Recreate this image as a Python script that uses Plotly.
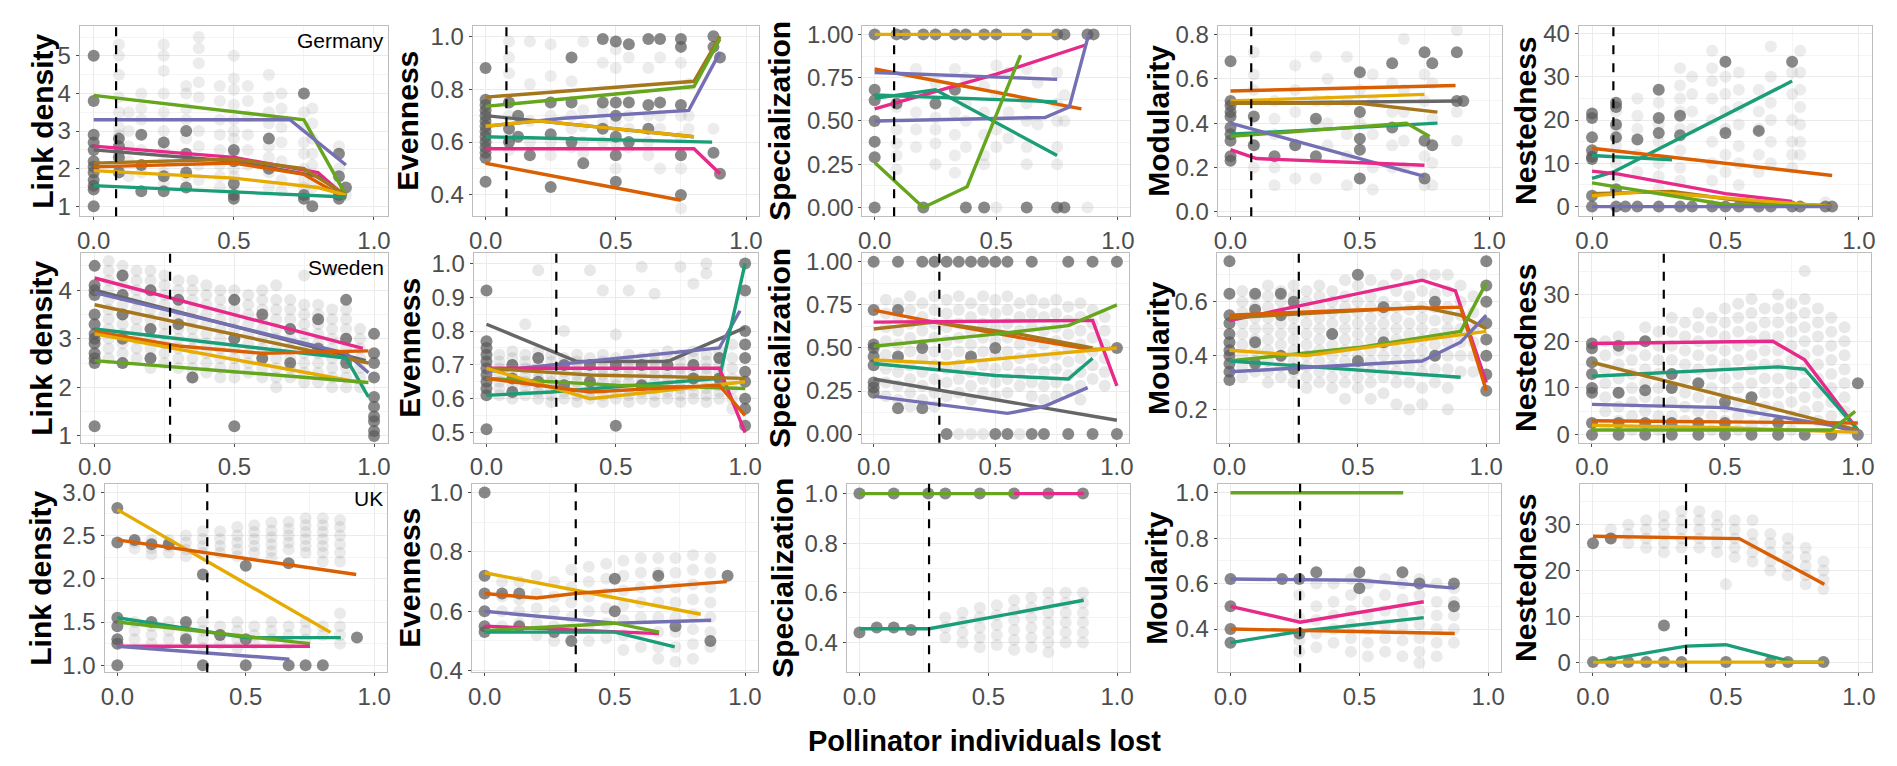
import plotly.graph_objects as go

W, H = 1897, 766

COLORS = {"teal": "#1B9E77", "orange": "#D95F02", "purple": "#7570B3", "pink": "#E7298A",
          "green": "#66A61E", "yellow": "#E6AB02", "brown": "#A6761D", "gray": "#666666"}

# ---------------- Germany ----------------
GER_LD_DARK = {0.0: [5.0, 3.8, 2.9, 2.7, 2.5, 2.2, 2.05, 1.9, 1.7, 1.55, 1.45, 1.0],
               0.09: [2.8, 2.6, 2.3, 1.9], 0.17: [2.9, 2.1, 1.4], 0.25: [2.7, 1.8, 1.4],
               0.33: [3.0, 2.4, 1.9, 1.5], 0.5: [2.5, 2.2, 1.6, 1.3, 1.2], 0.625: [2.8, 2.0],
               0.75: [4.0, 1.3, 1.2], 0.78: [1.0], 0.875: [2.4, 1.8, 1.3, 1.2], 0.9: [1.5]}
GER_LD_LIGHT = {0.09: [5.3, 5.0, 4.5, 3.9, 3.5, 3.1, 2.9, 2.4, 2.0], 0.125: [3.5, 3.0, 2.6, 2.2, 1.8],
                0.17: [4.0, 3.6, 3.3, 2.5, 1.9], 0.25: [5.3, 5.0, 4.6, 4.0, 3.5, 3.0, 2.5, 2.2, 1.9, 1.6],
                0.33: [4.2, 4.0, 3.6, 3.3, 2.8, 2.2, 1.8], 0.375: [5.5, 5.2, 4.8, 4.3, 3.9, 3.0, 2.6, 2.1, 1.7],
                0.45: [4.2, 3.8, 3.3, 2.9, 2.5, 2.1, 1.8, 1.5],
                0.5: [5.0, 4.4, 4.1, 3.7, 3.3, 3.0, 2.8, 2.4, 2.0, 1.8, 1.4],
                0.55: [4.2, 3.8, 3.4, 2.9, 2.5, 2.1], 0.625: [4.5, 3.9, 3.5, 3.2, 2.6, 2.3, 1.9, 1.5],
                0.67: [4.0, 3.6, 3.1, 2.7, 2.2, 1.7, 1.4], 0.75: [3.5, 3.1, 2.7, 2.4, 2.0, 1.7, 1.5],
                0.78: [3.6, 3.2, 2.8, 2.4, 2.1, 1.8, 1.5], 0.875: [2.6, 2.0, 1.6], 0.9: [1.3]}
GER_LD_LINES = {"green": ([0, 0.75, 0.9], [3.95, 3.3, 1.3]),
                "purple": ([0, 0.7, 0.9], [3.3, 3.3, 2.1]),
                "pink": ([0, 0.5, 0.8, 0.9], [2.6, 2.3, 1.9, 1.25]),
                "gray": ([0, 0.5, 0.8, 0.9], [2.5, 2.2, 1.8, 1.25]),
                "brown": ([0, 0.5, 0.75, 0.9], [2.15, 2.25, 2.0, 1.3]),
                "orange": ([0, 0.5, 0.75, 0.9], [2.05, 2.15, 1.85, 1.2]),
                "yellow": ([0, 0.5, 0.8, 0.9], [1.95, 1.75, 1.5, 1.3]),
                "teal": ([0, 0.75, 0.9], [1.55, 1.3, 1.25])}

GER_EV_DARK = {0.0: [0.88, 0.76, 0.74, 0.72, 0.70, 0.68, 0.66, 0.64, 0.62, 0.60, 0.58, 0.56, 0.54, 0.45],
               0.09: [0.75, 0.65, 0.6], 0.125: [0.7, 0.62], 0.17: [0.55], 0.25: [0.75, 0.63, 0.43],
               0.33: [0.92, 0.75, 0.6], 0.375: [0.52], 0.45: [0.99, 0.75, 0.65],
               0.5: [0.98, 0.75, 0.7, 0.62, 0.55, 0.45], 0.55: [0.97, 0.75, 0.6], 0.625: [0.99, 0.74, 0.65],
               0.67: [0.99, 0.75], 0.75: [0.99, 0.96, 0.74, 0.55, 0.4], 0.875: [1.0, 0.96, 0.56], 0.9: [0.92, 0.48]}
GER_EV_LIGHT = {0.09: [0.98, 0.92, 0.86, 0.7, 0.62, 0.57], 0.17: [0.98, 0.82, 0.68, 0.6],
                0.25: [0.97, 0.85, 0.7, 0.6, 0.55], 0.33: [0.83, 0.7, 0.65, 0.58],
                0.375: [0.98, 0.72, 0.66, 0.6, 0.56], 0.45: [0.9, 0.72, 0.67, 0.6],
                0.5: [0.95, 0.88, 0.68, 0.6, 0.5], 0.55: [0.92, 0.7, 0.65, 0.58],
                0.625: [0.88, 0.7, 0.6, 0.55], 0.67: [0.92, 0.7, 0.65, 0.5],
                0.75: [0.9, 0.7, 0.62, 0.5, 0.35], 0.78: [0.82, 0.7, 0.65], 0.875: [0.65]}
GER_EV_LINES = {"orange": ([0, 0.75], [0.52, 0.38]),
                "brown": ([0, 0.8, 0.9], [0.77, 0.83, 1.0]),
                "green": ([0, 0.8, 0.9], [0.735, 0.81, 0.99]),
                "gray": ([0, 0.8], [0.70, 0.62]),
                "purple": ([0, 0.3, 0.78, 0.9], [0.66, 0.69, 0.72, 0.94]),
                "yellow": ([0, 0.2, 0.8], [0.66, 0.68, 0.62]),
                "teal": ([0, 0.87], [0.62, 0.60]),
                "pink": ([0, 0.8, 0.9], [0.575, 0.575, 0.48])}

GER_SP_DARK = {0.0: [1.0, 0.68, 0.62, 0.5, 0.38, 0.29, 0.0], 0.09: [1.0, 0.6], 0.125: [1.0],
               0.2: [1.0, 0.0], 0.25: [1.0, 0.6], 0.33: [1.0, 0.68], 0.375: [1.0, 0.0], 0.45: [1.0, 0.0],
               0.5: [1.0], 0.625: [1.0, 0.0], 0.75: [1.0, 0.0], 0.78: [1.0, 0.0], 0.875: [1.0], 0.9: [1.0]}
GER_SP_LIGHT = {0.09: [0.58, 0.45, 0.37, 0.3, 0.22], 0.17: [0.8, 0.55, 0.45, 0.35],
                0.25: [0.72, 0.52, 0.45, 0.37, 0.25], 0.33: [0.8, 0.55, 0.42, 0.3, 0.2],
                0.375: [0.75, 0.6, 0.5, 0.35], 0.45: [0.7, 0.55, 0.42, 0.3, 0.25],
                0.5: [0.82, 0.65, 0.45, 0.35, 0.0], 0.55: [0.78, 0.55, 0.4],
                0.625: [0.8, 0.6, 0.5, 0.35, 0.25], 0.67: [0.72, 0.48],
                0.75: [0.78, 0.6, 0.5, 0.35, 0.25], 0.78: [0.65, 0.5], 0.875: [0.0]}
GER_SP_LINES = {"yellow": ([0, 0.75], [1.0, 1.0]),
                "pink": ([0, 0.5, 0.87], [0.57, 0.77, 0.94]),
                "orange": ([0, 0.85], [0.8, 0.57]),
                "purple": ([0, 0.75], [0.78, 0.74]),
                "purple2": ([0, 0.7, 0.8, 0.88], [0.5, 0.52, 0.58, 1.0]),
                "teal": ([0, 0.25, 0.75], [0.63, 0.68, 0.3]),
                "teal2": ([0, 0.75], [0.65, 0.61]),
                "green": ([0, 0.2, 0.38, 0.6], [0.26, 0.0, 0.12, 0.88])}

GER_MO_DARK = {0.0: [0.68, 0.5, 0.48, 0.45, 0.43, 0.38, 0.35, 0.32, 0.25, 0.23], 0.09: [0.43, 0.3],
               0.17: [0.25], 0.25: [0.3], 0.33: [0.42, 0.25], 0.5: [0.63, 0.45, 0.33, 0.28, 0.15],
               0.625: [0.67, 0.38], 0.75: [0.72, 0.32, 0.15], 0.78: [0.67, 0.3], 0.875: [0.72, 0.5], 0.9: [0.5]}
GER_MO_LIGHT = {0.09: [0.72, 0.62, 0.55, 0.3, 0.2], 0.17: [0.5, 0.42, 0.35, 0.2, 0.12],
                0.25: [0.66, 0.55, 0.45, 0.3, 0.15], 0.33: [0.7, 0.5, 0.4, 0.15],
                0.375: [0.6, 0.5, 0.4, 0.3], 0.45: [0.7, 0.5, 0.35, 0.25, 0.12], 0.5: [0.55, 0.4],
                0.55: [0.62, 0.5, 0.35, 0.2, 0.1], 0.625: [0.58, 0.45, 0.3, 0.2],
                0.67: [0.78, 0.55, 0.45, 0.32, 0.2], 0.75: [0.62, 0.5, 0.25, 0.12],
                0.78: [0.58, 0.42, 0.22, 0.12], 0.875: [0.82, 0.45, 0.32]}
GER_MO_LINES = {"orange": ([0, 0.87], [0.545, 0.57]),
                "yellow": ([0, 0.75], [0.5, 0.53]),
                "gray": ([0, 0.88], [0.49, 0.5]),
                "brown": ([0, 0.5, 0.8], [0.49, 0.49, 0.45]),
                "teal": ([0, 0.8], [0.35, 0.4]),
                "green": ([0, 0.68, 0.77], [0.34, 0.4, 0.34]),
                "purple": ([0, 0.75], [0.4, 0.16]),
                "pink": ([0, 0.1, 0.75], [0.28, 0.24, 0.21])}

GER_NE_DARK = {0.0: [21.5, 20.5, 16, 13, 11.5, 11, 2.5, 0], 0.09: [24, 23, 19, 16, 4, 0], 0.125: [0],
               0.17: [15.5, 0], 0.25: [27, 20.5, 17, 0], 0.33: [21, 16.5, 0], 0.375: [0], 0.45: [0],
               0.5: [33.5, 17, 0], 0.55: [0], 0.625: [17.5, 0], 0.67: [0], 0.75: [33.5, 0], 0.78: [0],
               0.875: [0], 0.9: [0]}
GER_NE_LIGHT = {0.09: [22, 18, 14, 10, 7], 0.17: [25, 21, 18, 12, 8], 0.25: [24, 19, 15, 10, 7, 4],
                0.33: [32, 28, 25, 22, 18, 13, 9, 6], 0.375: [30, 26, 22, 18],
                0.45: [36, 32, 29, 25, 20, 15, 10, 6], 0.5: [30, 26, 22, 18, 12, 8],
                0.55: [31, 27, 23, 19, 14, 10, 5], 0.625: [27, 22, 18, 12, 8],
                0.67: [37, 30, 24, 20, 15, 10], 0.75: [31, 26, 20, 15, 12, 9],
                0.78: [36, 31, 27, 23, 19, 15, 12], 0.875: [1]}
GER_NE_LINES = {"teal": ([0, 0.08, 0.75], [6.5, 8.0, 29.0]),
                "orange": ([0, 0.9], [13.5, 7.2]),
                "teal2": ([0, 0.3], [11.8, 10.8]),
                "pink": ([0, 0.1, 0.5, 0.75], [8.2, 7.5, 3.0, 1.2]),
                "brown": ([0, 0.3, 0.6, 0.9], [3.0, 3.5, 1.0, 0.2]),
                "yellow": ([0, 0.2, 0.5, 0.9], [2.5, 3.5, 2.0, 0.0]),
                "green": ([0, 0.2, 0.5, 0.9], [5.5, 3.5, 0.5, 0.0]),
                "purple": ([0, 0.9], [0.0, 0.0])}

# ---------------- Sweden ----------------
SWE_LD_DARK = {0.0: [4.5, 4.1, 4.0, 3.9, 3.5, 3.3, 3.1, 3.0, 2.9, 2.7, 2.6, 2.5, 1.2],
               0.1: [4.3, 3.9, 3.5, 3.0, 2.5], 0.2: [4.0, 3.2, 2.6], 0.3: [3.8, 3.3], 0.35: [2.2],
               0.5: [3.8, 3.0, 1.2], 0.6: [3.5, 2.6], 0.7: [3.2, 2.5], 0.8: [3.4, 2.8], 0.9: [3.8, 3.0, 2.5],
               1.0: [3.1, 2.7, 2.5, 2.2, 1.8, 1.6, 1.4, 1.3, 1.1, 1.0]}
SWE_LD_LIGHT = {0.05: [4.6, 4.4, 4.2, 4.0, 3.8, 3.6, 3.4, 3.2, 3.0, 2.8, 2.6],
                0.1: [4.5, 4.3, 4.1, 3.9, 3.7, 3.5, 3.3, 3.1, 2.9, 2.7, 2.5],
                0.15: [4.4, 4.2, 4.0, 3.8, 3.6, 3.4, 3.2, 3.0, 2.8, 2.6],
                0.2: [4.4, 4.2, 4.0, 3.8, 3.6, 3.4, 3.2, 3.0, 2.8, 2.6, 2.4],
                0.25: [4.3, 4.1, 3.9, 3.7, 3.5, 3.3, 3.1, 2.9, 2.7, 2.5],
                0.3: [4.2, 4.0, 3.8, 3.6, 3.4, 3.2, 3.0, 2.8, 2.6, 2.4],
                0.35: [4.2, 4.0, 3.8, 3.6, 3.4, 3.2, 3.0, 2.8, 2.6, 2.4, 2.2],
                0.4: [4.1, 3.9, 3.7, 3.5, 3.3, 3.1, 2.9, 2.7, 2.5, 2.3],
                0.45: [4.0, 3.8, 3.6, 3.4, 3.2, 3.0, 2.8, 2.6, 2.4, 2.2],
                0.5: [4.0, 3.8, 3.6, 3.4, 3.2, 3.0, 2.8, 2.6, 2.4, 2.2],
                0.55: [3.9, 3.7, 3.5, 3.3, 3.1, 2.9, 2.7, 2.5, 2.3],
                0.6: [4.0, 3.8, 3.6, 3.4, 3.2, 3.0, 2.8, 2.6, 2.4, 2.2],
                0.65: [4.1, 3.8, 3.6, 3.4, 3.2, 3.0, 2.8, 2.6, 2.4, 2.2, 2.0],
                0.7: [3.8, 3.6, 3.4, 3.2, 3.0, 2.8, 2.6, 2.4, 2.2],
                0.75: [4.3, 3.7, 3.5, 3.3, 3.1, 2.9, 2.7, 2.5, 2.3, 2.1],
                0.8: [3.7, 3.5, 3.3, 3.1, 2.9, 2.7, 2.5, 2.3, 2.1],
                0.85: [4.4, 3.6, 3.4, 3.2, 3.0, 2.8, 2.6, 2.4, 2.2, 2.0],
                0.9: [3.6, 3.4, 3.2, 3.0, 2.8, 2.6, 2.4, 2.2, 2.0],
                0.95: [3.2, 3.0, 2.8, 2.6, 2.4, 2.2, 2.0]}
SWE_LD_LINES = {"pink": ([0, 0.96], [4.25, 2.8]),
                "gray": ([0, 0.97], [4.0, 2.55]),
                "purple": ([0, 0.9, 0.98], [3.95, 2.7, 2.3]),
                "brown": ([0, 0.98], [3.7, 2.5]),
                "teal": ([0, 0.9, 0.98], [3.2, 2.6, 1.8]),
                "orange": ([0, 0.3, 0.6, 0.98], [3.15, 2.85, 2.7, 2.75]),
                "yellow": ([0, 0.95], [3.1, 2.1]),
                "green": ([0, 0.98], [2.55, 2.1])}

SWE_EV_DARK = {0.0: [0.92, 0.77, 0.75, 0.73, 0.71, 0.69, 0.67, 0.65, 0.63, 0.61, 0.51],
               0.1: [0.7, 0.66, 0.62], 0.2: [0.72, 0.65], 0.3: [0.7, 0.64], 0.4: [0.7, 0.65],
               0.5: [0.52, 0.7], 0.6: [0.7, 0.64], 0.7: [0.7], 0.8: [0.7, 0.66], 0.9: [0.72, 0.66],
               1.0: [1.0, 0.92, 0.8, 0.76, 0.72, 0.68, 0.65, 0.6, 0.57, 0.52]}
SWE_EV_LIGHT = {0.05: [0.73, 0.71, 0.69, 0.67, 0.65, 0.63, 0.61], 0.1: [0.74, 0.72, 0.7, 0.68, 0.66, 0.64, 0.62, 0.6],
                0.15: [0.82, 0.73, 0.71, 0.69, 0.67, 0.65, 0.63, 0.61], 0.2: [0.98, 0.74, 0.72, 0.7, 0.68, 0.66, 0.64, 0.62, 0.6],
                0.25: [0.73, 0.71, 0.69, 0.67, 0.65, 0.63, 0.61, 0.59], 0.3: [0.8, 0.72, 0.7, 0.68, 0.66, 0.64, 0.62, 0.6],
                0.35: [0.73, 0.71, 0.69, 0.67, 0.65, 0.63, 0.61, 0.59], 0.4: [0.98, 0.72, 0.7, 0.68, 0.66, 0.64, 0.62, 0.6],
                0.45: [0.92, 0.73, 0.71, 0.69, 0.67, 0.65, 0.63, 0.61, 0.59], 0.5: [0.79, 0.72, 0.7, 0.68, 0.66, 0.64, 0.62, 0.6],
                0.55: [0.92, 0.73, 0.71, 0.69, 0.67, 0.65, 0.63, 0.61, 0.59], 0.6: [0.99, 0.72, 0.7, 0.68, 0.66, 0.64, 0.62, 0.6],
                0.65: [0.91, 0.73, 0.71, 0.69, 0.67, 0.65, 0.63, 0.61, 0.59], 0.7: [0.74, 0.72, 0.7, 0.68, 0.66, 0.64, 0.62, 0.6],
                0.75: [0.99, 0.73, 0.71, 0.69, 0.67, 0.65, 0.63, 0.61, 0.59], 0.8: [0.94, 0.74, 0.72, 0.7, 0.68, 0.66, 0.64, 0.62, 0.6],
                0.85: [1.0, 0.97, 0.73, 0.71, 0.69, 0.67, 0.65, 0.63, 0.61, 0.59], 0.9: [0.74, 0.72, 0.7, 0.68, 0.66, 0.64, 0.62, 0.6],
                0.95: [0.76, 0.72, 0.69, 0.66, 0.63, 0.6, 0.57]}
SWE_EV_LINES = {"gray": ([0, 0.35, 0.7, 1.0], [0.82, 0.71, 0.71, 0.81]),
                "purple": ([0, 0.9, 0.98], [0.68, 0.75, 0.86]),
                "teal": ([0, 0.25, 0.9, 1.0], [0.61, 0.62, 0.66, 1.0]),
                "pink": ([0, 0.9, 1.0], [0.69, 0.69, 0.5]),
                "brown": ([0, 0.4, 1.0], [0.69, 0.67, 0.66]),
                "green": ([0, 0.5, 1.0], [0.66, 0.64, 0.63]),
                "yellow": ([0, 0.4, 1.0], [0.69, 0.6, 0.65]),
                "orange": ([0, 0.4, 0.9, 1.0], [0.66, 0.62, 0.64, 0.55])}

SWE_SP_DARK = {0.0: [1.0, 0.72, 0.52, 0.5, 0.45, 0.4, 0.3, 0.27, 0.24], 0.1: [1.0, 0.72, 0.45, 0.15],
               0.2: [1.0, 0.5, 0.15], 0.25: [1.0], 0.3: [1.0, 0.0], 0.35: [1.0], 0.4: [1.0, 0.45],
               0.45: [1.0], 0.5: [1.0, 0.5, 0.0], 0.55: [1.0, 0.0], 0.65: [1.0, 0.0], 0.7: [0.0],
               0.8: [1.0, 0.0], 0.9: [1.0, 0.0], 1.0: [1.0, 0.5, 0.0]}
SWE_SP_LIGHT = {0.05: [0.78, 0.7, 0.62, 0.54, 0.46, 0.38, 0.3, 0.22], 0.1: [0.76, 0.68, 0.6, 0.52, 0.44, 0.36, 0.28, 0.2],
                0.15: [0.8, 0.72, 0.64, 0.56, 0.48, 0.4, 0.32, 0.24, 0.16], 0.2: [0.76, 0.68, 0.6, 0.52, 0.44, 0.36, 0.28, 0.2],
                0.25: [0.8, 0.72, 0.64, 0.56, 0.48, 0.4, 0.32, 0.24, 0.16], 0.3: [0.78, 0.7, 0.62, 0.54, 0.46, 0.38, 0.3, 0.22],
                0.35: [0.8, 0.72, 0.64, 0.56, 0.48, 0.4, 0.32, 0.24, 0.0], 0.4: [0.76, 0.68, 0.6, 0.52, 0.44, 0.36, 0.28, 0.2, 0.0],
                0.45: [0.8, 0.72, 0.64, 0.56, 0.48, 0.4, 0.32, 0.24, 0.0], 0.5: [0.78, 0.7, 0.62, 0.54, 0.46, 0.38, 0.3, 0.22],
                0.55: [0.8, 0.72, 0.64, 0.56, 0.48, 0.4, 0.32, 0.24], 0.6: [0.76, 0.68, 0.6, 0.52, 0.44, 0.36, 0.28, 0.0],
                0.65: [0.78, 0.7, 0.62, 0.54, 0.46, 0.38, 0.3, 0.22], 0.7: [0.76, 0.68, 0.6, 0.52, 0.44, 0.36, 0.28, 0.2],
                0.75: [0.78, 0.7, 0.62, 0.54, 0.46, 0.38, 0.3, 0.22], 0.8: [0.74, 0.66, 0.58, 0.5, 0.42, 0.34, 0.26],
                0.85: [0.76, 0.68, 0.6, 0.52, 0.44, 0.36, 0.28, 0.2], 0.9: [0.72, 0.64, 0.56, 0.48, 0.4, 0.32],
                0.95: [0.68, 0.6, 0.52, 0.44, 0.36, 0.28]}
SWE_SP_LINES = {"orange": ([0, 0.25, 0.6, 0.9, 1.0], [0.72, 0.65, 0.56, 0.49, 0.5]),
                "brown": ([0, 0.25, 0.6, 0.9], [0.61, 0.65, 0.58, 0.5]),
                "pink": ([0, 0.9, 1.0], [0.65, 0.66, 0.28]),
                "green": ([0, 0.5, 0.8, 1.0], [0.51, 0.58, 0.63, 0.75]),
                "yellow": ([0, 0.3, 1.0], [0.43, 0.41, 0.5]),
                "teal": ([0, 0.5, 0.8, 0.9], [0.41, 0.34, 0.32, 0.44]),
                "gray": ([0, 1.0], [0.32, 0.08]),
                "purple": ([0, 0.55, 0.7, 0.88], [0.22, 0.12, 0.16, 0.27])}

SWE_MO_DARK = {0.0: [0.75, 0.63, 0.55, 0.52, 0.48, 0.45, 0.42, 0.4, 0.37, 0.34, 0.31],
               0.1: [0.63, 0.57, 0.45, 0.37], 0.2: [0.63, 0.55, 0.4], 0.25: [0.6, 0.35], 0.4: [0.48],
               0.5: [0.7, 0.38], 0.6: [0.58, 0.45], 0.8: [0.6, 0.4],
               1.0: [0.75, 0.66, 0.6, 0.52, 0.46, 0.4, 0.33, 0.27]}
SWE_MO_LIGHT = {0.05: [0.64, 0.6, 0.56, 0.52, 0.48, 0.44, 0.4, 0.36, 0.32], 0.1: [0.62, 0.58, 0.54, 0.5, 0.46, 0.42, 0.38, 0.34],
                0.15: [0.66, 0.62, 0.58, 0.54, 0.5, 0.46, 0.42, 0.38, 0.34, 0.3], 0.2: [0.64, 0.6, 0.56, 0.52, 0.48, 0.44, 0.4, 0.36, 0.32],
                0.25: [0.66, 0.62, 0.58, 0.54, 0.5, 0.46, 0.42, 0.38, 0.34, 0.3], 0.3: [0.64, 0.6, 0.56, 0.52, 0.48, 0.44, 0.4, 0.36, 0.32, 0.28],
                0.35: [0.66, 0.62, 0.58, 0.54, 0.5, 0.46, 0.42, 0.38, 0.34, 0.3], 0.4: [0.64, 0.6, 0.56, 0.52, 0.48, 0.44, 0.4, 0.36, 0.32, 0.28],
                0.45: [0.68, 0.62, 0.58, 0.54, 0.5, 0.46, 0.42, 0.38, 0.34, 0.3, 0.24], 0.5: [0.66, 0.6, 0.56, 0.52, 0.48, 0.44, 0.4, 0.36, 0.32, 0.28],
                0.55: [0.68, 0.62, 0.58, 0.54, 0.5, 0.46, 0.42, 0.38, 0.34, 0.3, 0.24], 0.6: [0.66, 0.6, 0.56, 0.52, 0.48, 0.44, 0.4, 0.36, 0.32, 0.26],
                0.65: [0.7, 0.64, 0.58, 0.54, 0.5, 0.46, 0.42, 0.38, 0.34, 0.3, 0.22], 0.7: [0.68, 0.62, 0.57, 0.52, 0.48, 0.44, 0.4, 0.36, 0.3, 0.2],
                0.75: [0.7, 0.64, 0.58, 0.54, 0.5, 0.46, 0.42, 0.38, 0.34, 0.28, 0.22], 0.8: [0.7, 0.63, 0.58, 0.53, 0.48, 0.44, 0.4, 0.35, 0.3],
                0.85: [0.7, 0.64, 0.58, 0.54, 0.5, 0.45, 0.4, 0.35, 0.28, 0.2], 0.9: [0.66, 0.6, 0.55, 0.5, 0.45, 0.4, 0.34],
                0.95: [0.62, 0.56, 0.5, 0.45, 0.4, 0.34]}
SWE_MO_LINES = {"pink": ([0, 0.75, 0.88, 1.0], [0.53, 0.68, 0.64, 0.3]),
                "brown": ([0, 0.75, 0.9, 1.0], [0.54, 0.58, 0.55, 0.5]),
                "orange": ([0, 0.5, 0.9, 1.0], [0.55, 0.57, 0.58, 0.27]),
                "green": ([0, 0.5, 0.9, 1.0], [0.38, 0.43, 0.49, 0.67]),
                "yellow": ([0, 0.3, 1.0], [0.42, 0.4, 0.49]),
                "teal": ([0, 0.9], [0.38, 0.32]),
                "purple": ([0, 0.75, 0.9, 1.0], [0.34, 0.38, 0.45, 0.55])}

SWE_NE_DARK = {0.0: [19.5, 18.5, 15.5, 13, 10, 9, 2.5, 0], 0.1: [19, 9, 2.5, 0], 0.2: [20, 9.5, 2.5, 0],
               0.3: [13, 10, 2.5, 0], 0.4: [11, 2.5, 0], 0.5: [7, 2.5, 0], 0.6: [8, 0], 0.7: [2.5, 0], 0.8: [0],
               0.9: [0], 1.0: [11, 0]}
SWE_NE_LIGHT = {0.05: [20, 17, 14, 11, 8, 5, 2], 0.1: [21, 18, 15, 12, 9, 6, 3],
                0.15: [19, 16, 13, 10, 7, 4, 1], 0.2: [23, 20, 17, 14, 11, 8, 5, 2],
                0.25: [22, 19, 16, 13, 10, 7, 4, 1], 0.3: [25, 22, 19, 16, 13, 10, 7, 4],
                0.35: [24, 21, 18, 15, 12, 9, 6, 3], 0.4: [26, 23, 20, 17, 14, 11, 8, 5, 2],
                0.45: [25, 22, 19, 16, 13, 10, 7, 4, 1], 0.5: [27, 24, 21, 18, 15, 12, 9, 6, 3],
                0.55: [28, 25, 22, 19, 16, 13, 10, 7, 4, 1], 0.6: [29, 26, 23, 20, 17, 14, 11, 8, 5, 2],
                0.65: [27, 24, 21, 18, 15, 12, 9, 6, 3], 0.7: [30, 27, 24, 21, 18, 15, 12, 9, 6, 3],
                0.75: [28, 25, 22, 19, 16, 13, 10, 7, 4, 1], 0.8: [35, 29, 26, 23, 20, 17, 14, 11, 8, 5],
                0.85: [27, 24, 21, 18, 15, 12, 9, 6, 3], 0.9: [25, 22, 19, 16, 13, 10, 7, 4],
                0.95: [23, 20, 17, 14, 11, 8, 5, 2]}
SWE_NE_LINES = {"pink": ([0, 0.68, 0.8, 1.0], [19.5, 20.0, 16.0, 1.0]),
                "teal": ([0, 0.7, 0.8, 1.0], [12.5, 14.5, 14.0, 1.0]),
                "brown": ([0, 1.0], [15.5, 1.0]),
                "purple": ([0, 0.5, 0.9, 1.0], [6.5, 5.8, 2.0, 0.5]),
                "orange": ([0, 1.0], [3.0, 2.5]),
                "yellow": ([0, 0.5, 1.0], [2.0, 1.5, 0.5]),
                "green": ([0, 0.9, 0.99], [1.0, 1.0, 5.0])}

# ---------------- UK ----------------
UK_LD_DARK = {0.0: [2.82, 2.42, 1.55, 1.45, 1.3, 1.25, 1.0], 0.067: [2.45], 0.133: [2.4, 1.5],
              0.2: [2.4], 0.267: [1.5, 1.3], 0.333: [2.05, 1.0], 0.4: [1.35], 0.5: [2.15, 1.3, 1.0],
              0.667: [2.18, 1.0], 0.733: [1.0], 0.8: [1.0], 0.933: [1.32]}
UK_LD_LIGHT = {0.067: [2.42, 2.35, 1.5, 1.4, 1.3], 0.133: [2.45, 2.35, 2.28, 1.45, 1.35, 1.25],
               0.2: [2.45, 2.38, 2.3, 1.5, 1.4, 1.3], 0.267: [2.5, 2.42, 2.34, 2.26, 1.45, 1.35, 1.25],
               0.333: [2.55, 2.46, 2.38, 2.3, 1.5, 1.4, 1.3, 1.2], 0.4: [2.55, 2.46, 2.38, 2.3, 1.45, 1.35, 1.25],
               0.467: [2.6, 2.5, 2.42, 2.34, 2.26, 1.5, 1.4, 1.3, 1.2],
               0.533: [2.62, 2.54, 2.46, 2.38, 2.3, 1.45, 1.35, 1.25],
               0.6: [2.65, 2.56, 2.48, 2.4, 2.32, 2.24, 1.5, 1.4, 1.3],
               0.667: [2.66, 2.58, 2.5, 2.42, 2.34, 1.45, 1.35, 1.25],
               0.733: [2.7, 2.62, 2.54, 2.46, 2.38, 2.3, 1.5, 1.4, 1.3],
               0.8: [2.7, 2.62, 2.54, 2.46, 2.38, 2.3, 2.2, 1.45, 1.35],
               0.867: [2.68, 2.6, 2.5, 2.4, 2.3, 2.2, 1.6, 1.45, 1.35, 1.25]}
UK_LD_LINES = {"yellow": ([0, 0.83], [2.8, 1.38]),
               "orange": ([0, 0.93], [2.45, 2.05]),
               "teal": ([0, 0.5, 0.87], [1.55, 1.32, 1.32]),
               "green": ([0, 0.75], [1.5, 1.25]),
               "pink": ([0, 0.75], [1.22, 1.22]),
               "purple": ([0, 0.67], [1.22, 1.07])}

UK_EV_DARK = {0.0: [1.0, 0.72, 0.66, 0.6, 0.55, 0.53], 0.067: [0.66], 0.133: [0.66, 0.55],
              0.267: [0.53], 0.333: [0.5], 0.5: [0.71, 0.6], 0.667: [0.72], 0.733: [0.55],
              0.867: [0.5], 0.933: [0.72]}
UK_EV_LIGHT = {0.067: [0.7, 0.65, 0.6, 0.55], 0.133: [0.7, 0.64, 0.6, 0.56],
               0.2: [0.72, 0.66, 0.61, 0.56, 0.52], 0.267: [0.7, 0.65, 0.6, 0.55, 0.5],
               0.333: [0.74, 0.68, 0.63, 0.58, 0.53], 0.4: [0.75, 0.7, 0.65, 0.6, 0.55, 0.5],
               0.467: [0.76, 0.71, 0.66, 0.61, 0.56, 0.51], 0.533: [0.77, 0.72, 0.67, 0.62, 0.57, 0.52, 0.47],
               0.6: [0.78, 0.73, 0.68, 0.63, 0.58, 0.53, 0.48], 0.667: [0.78, 0.73, 0.68, 0.63, 0.58, 0.53, 0.48, 0.44],
               0.733: [0.78, 0.73, 0.68, 0.63, 0.58, 0.53, 0.48, 0.43],
               0.8: [0.79, 0.74, 0.69, 0.64, 0.59, 0.54, 0.49, 0.44],
               0.867: [0.78, 0.73, 0.68, 0.63, 0.58, 0.53, 0.48]}
UK_EV_LINES = {"yellow": ([0, 0.83], [0.73, 0.59]),
               "orange": ([0, 0.2, 0.35, 0.93], [0.66, 0.645, 0.66, 0.7]),
               "purple": ([0, 0.5, 0.87], [0.6, 0.56, 0.57]),
               "pink": ([0, 0.67], [0.55, 0.525]),
               "green": ([0, 0.5, 0.67], [0.535, 0.56, 0.53]),
               "teal": ([0, 0.5, 0.73], [0.53, 0.53, 0.48])}

UK_SP_DARK = {0.0: [1.0, 0.44], 0.067: [0.46], 0.133: [1.0, 0.46], 0.2: [0.45], 0.267: [1.0],
              0.333: [1.0], 0.467: [1.0], 0.6: [1.0], 0.733: [1.0], 0.867: [1.0]}
UK_SP_LIGHT = {0.333: [0.5, 0.46, 0.42], 0.4: [0.52, 0.48, 0.44, 0.4],
               0.467: [0.54, 0.5, 0.46, 0.42, 0.38], 0.533: [0.55, 0.51, 0.47, 0.43, 0.39],
               0.6: [0.57, 0.53, 0.49, 0.45, 0.41, 0.37], 0.667: [0.58, 0.54, 0.5, 0.46, 0.42, 0.38],
               0.733: [0.6, 0.56, 0.52, 0.48, 0.44, 0.4, 0.36], 0.8: [0.6, 0.56, 0.52, 0.48, 0.44, 0.4],
               0.867: [0.6, 0.56, 0.52, 0.48, 0.44, 0.4]}
UK_SP_LINES = {"green": ([0, 0.6], [1.0, 1.0]),
               "pink": ([0.6, 0.87], [1.0, 1.0]),
               "teal": ([0, 0.27, 0.87], [0.455, 0.455, 0.57])}

UK_MO_DARK = {0.0: [0.62, 0.5, 0.4, 0.34], 0.2: [0.62], 0.267: [0.62, 0.38], 0.333: [0.65],
              0.5: [0.65, 0.58], 0.667: [0.65], 0.733: [0.6], 0.867: [0.6, 0.5]}
UK_MO_LIGHT = {0.267: [0.55, 0.45, 0.35, 0.3], 0.333: [0.6, 0.5, 0.44, 0.38, 0.32],
               0.4: [0.6, 0.52, 0.46, 0.4, 0.34], 0.467: [0.62, 0.55, 0.48, 0.42, 0.36, 0.3],
               0.533: [0.6, 0.52, 0.46, 0.4, 0.34, 0.28], 0.6: [0.62, 0.55, 0.48, 0.42, 0.36, 0.3],
               0.667: [0.6, 0.53, 0.47, 0.41, 0.35, 0.28], 0.733: [0.62, 0.55, 0.48, 0.42, 0.36, 0.3, 0.25],
               0.8: [0.6, 0.52, 0.46, 0.4, 0.34, 0.28], 0.867: [0.58, 0.52, 0.46, 0.4, 0.34]}
UK_MO_LINES = {"green": ([0, 0.67], [1.0, 1.0]),
               "purple": ([0, 0.5, 0.87], [0.62, 0.615, 0.58]),
               "pink": ([0, 0.27, 0.75], [0.5, 0.43, 0.52]),
               "teal": ([0, 0.27, 0.75], [0.34, 0.39, 0.45]),
               "orange": ([0, 0.87], [0.4, 0.38])}

UK_NE_DARK = {0.0: [26, 0], 0.067: [27, 0], 0.133: [0], 0.2: [0], 0.267: [8, 0], 0.333: [0],
              0.5: [0], 0.667: [0], 0.733: [0], 0.867: [0]}
UK_NE_LIGHT = {0.067: [29, 27], 0.133: [30, 28, 26], 0.2: [31, 29, 27, 25],
               0.267: [32, 30, 28, 26, 24], 0.333: [33, 31, 29, 27, 25], 0.4: [33, 31, 29, 27, 25],
               0.467: [32, 30, 28, 26, 24], 0.5: [17], 0.533: [31, 29, 27, 25, 23],
               0.6: [31, 28, 26, 24, 22], 0.667: [28, 26, 24, 22, 20], 0.733: [27, 25, 23, 21, 19],
               0.8: [25, 23, 21, 19, 17], 0.867: [22, 20, 18, 16]}
UK_NE_LINES = {"orange": ([0, 0.55, 0.87], [27.5, 27.0, 17.0]),
               "teal": ([0, 0.35, 0.5, 0.75, 0.87], [0.0, 3.5, 3.8, 0.0, 0.0]),
               "yellow": ([0, 0.87], [0.0, 0.0])}

# ---------------- panel definitions ----------------
Y_TITLES = [["Link density", "Evenness", "Specialization", "Modularity", "Nestedness"],
            ["Link density", "Evenness", "Specialization", "Moularity", "Nestedness"],
            ["Link density", "Evenness", "Specialization", "Moularity", "Nestedness"]]
COUNTRIES = ["Germany", "Sweden", "UK"]
CUTOFFS = [[0.08, 0.08, 0.08, 0.08, 0.08],
           [0.27, 0.27, 0.27, 0.27, 0.27],
           [0.35, 0.35, 0.27, 0.27, 0.35]]
DATA = [[(GER_LD_DARK, GER_LD_LIGHT, GER_LD_LINES), (GER_EV_DARK, GER_EV_LIGHT, GER_EV_LINES),
         (GER_SP_DARK, GER_SP_LIGHT, GER_SP_LINES), (GER_MO_DARK, GER_MO_LIGHT, GER_MO_LINES),
         (GER_NE_DARK, GER_NE_LIGHT, GER_NE_LINES)],
        [(SWE_LD_DARK, SWE_LD_LIGHT, SWE_LD_LINES), (SWE_EV_DARK, SWE_EV_LIGHT, SWE_EV_LINES),
         (SWE_SP_DARK, SWE_SP_LIGHT, SWE_SP_LINES), (SWE_MO_DARK, SWE_MO_LIGHT, SWE_MO_LINES),
         (SWE_NE_DARK, SWE_NE_LIGHT, SWE_NE_LINES)],
        [(UK_LD_DARK, UK_LD_LIGHT, UK_LD_LINES), (UK_EV_DARK, UK_EV_LIGHT, UK_EV_LINES),
         (UK_SP_DARK, UK_SP_LIGHT, UK_SP_LINES), (UK_MO_DARK, UK_MO_LIGHT, UK_MO_LINES),
         (UK_NE_DARK, UK_NE_LIGHT, UK_NE_LINES)]]
Y_TICKS = [[[1, 2, 3, 4, 5], [0.4, 0.6, 0.8, 1.0], [0, 0.25, 0.5, 0.75, 1.0], [0, 0.2, 0.4, 0.6, 0.8], [0, 10, 20, 30, 40]],
           [[1, 2, 3, 4], [0.5, 0.6, 0.7, 0.8, 0.9, 1.0], [0, 0.25, 0.5, 0.75, 1.0], [0.2, 0.4, 0.6], [0, 10, 20, 30]],
           [[1.0, 1.5, 2.0, 2.5, 3.0], [0.4, 0.6, 0.8, 1.0], [0.4, 0.6, 0.8, 1.0], [0.4, 0.6, 0.8, 1.0], [0, 10, 20, 30]]]
Y_TICKTEXT = [[["1", "2", "3", "4", "5"], ["0.4", "0.6", "0.8", "1.0"], ["0.00", "0.25", "0.50", "0.75", "1.00"],
               ["0.0", "0.2", "0.4", "0.6", "0.8"], ["0", "10", "20", "30", "40"]],
              [["1", "2", "3", "4"], ["0.5", "0.6", "0.7", "0.8", "0.9", "1.0"], ["0.00", "0.25", "0.50", "0.75", "1.00"],
               ["0.2", "0.4", "0.6"], ["0", "10", "20", "30"]],
              [["1.0", "1.5", "2.0", "2.5", "3.0"], ["0.4", "0.6", "0.8", "1.0"], ["0.4", "0.6", "0.8", "1.0"],
               ["0.4", "0.6", "0.8", "1.0"], ["0", "10", "20", "30"]]]
Y_RANGES = [[[0.74, 5.8], [0.32, 1.04], [-0.05, 1.05], [-0.02, 0.84], [-2.2, 41.8]],
            [[0.86, 4.76], [0.47, 1.03], [-0.05, 1.05], [0.077, 0.78], [-1.7, 38.8]],
            [[0.92, 3.1], [0.395, 1.03], [0.28, 1.04], [0.21, 1.04], [-2.2, 39.0]]]
X_TICKS = [0.0, 0.5, 1.0]
X_TICKTEXT = ["0.0", "0.5", "1.0"]
X_TITLE = "Pollinator individuals lost"

# ---------------- layout geometry (pixels) ----------------
ROW_Y = [(12, 207), (245, 439), (481, 674)]
COL_X = [[(67, 377), (462, 750), (854, 1123), (1211, 1497), (1574, 1869)],
         [(68, 377), (463, 749), (853, 1122), (1210, 1494), (1574, 1868)],
         [(92, 376), (461, 749), (838, 1123), (1211, 1496), (1575, 1869)]]
YTITLE_X = [[30, 397, 771, 1152, 1521],
            [29, 399, 771, 1152, 1521],
            [28, 399, 774, 1150, 1521]]
LIGHT_ALPHA = [0.17, 0.2, 0.18]

FONT = "Liberation Sans, Arial, Helvetica, sans-serif"
TICK_FONT = dict(family=FONT, size=24, color="#4D4D4D")

fig = go.Figure()
annotations = []
shapes = []
layout_axes = {}


def flatten(cols):
    xs, ys = [], []
    for xv, yl in cols.items():
        for yv in yl:
            xs.append(xv)
            ys.append(yv)
    return xs, ys


idx = 0
for r in range(3):
    for c in range(5):
        idx += 1
        xa = "x" if idx == 1 else f"x{idx}"
        ya = "y" if idx == 1 else f"y{idx}"
        dark, light, lines = DATA[r][c]
        lx, ly = flatten(light)
        fig.add_trace(go.Scatter(x=lx, y=ly, mode="markers", xaxis=xa, yaxis=ya, showlegend=False,
                                 marker=dict(size=12, color=f"rgba(140,140,140,{LIGHT_ALPHA[r]})", line=dict(width=0)),
                                 cliponaxis=True))
        dx, dy = flatten(dark)
        fig.add_trace(go.Scatter(x=dx, y=dy, mode="markers", xaxis=xa, yaxis=ya, showlegend=False,
                                 marker=dict(size=12, color="rgba(90,90,90,0.72)", line=dict(width=0)),
                                 cliponaxis=True))
        for name, (lxs, lys) in lines.items():
            fig.add_trace(go.Scatter(x=lxs, y=lys, mode="lines", xaxis=xa, yaxis=ya, showlegend=False,
                                     line=dict(color=COLORS[name.rstrip("2")], width=3.4)))
        x0, x1 = COL_X[r][c]
        y0, y1 = ROW_Y[r]
        dom_x = [x0 / W, x1 / W]
        dom_y = [1 - y1 / H, 1 - y0 / H]
        common = dict(showline=True, mirror=True, linecolor="#BDBDBD", linewidth=1,
                      showgrid=True, gridcolor="#EBEBEB", gridwidth=1, zeroline=False,
                      ticks="outside", ticklen=3, tickcolor="#4D4D4D", tickwidth=1,
                      tickfont=TICK_FONT)
        yt = Y_TICKS[r][c]
        ystep = yt[1] - yt[0]
        layout_axes["xaxis" if idx == 1 else f"xaxis{idx}"] = dict(
            domain=dom_x, anchor=ya, range=[-0.05, 1.05], tickvals=X_TICKS, ticktext=X_TICKTEXT,
            minor=dict(tickvals=[0.25, 0.75], showgrid=True, gridcolor="#F4F4F4", ticks=""), **common)
        layout_axes["yaxis" if idx == 1 else f"yaxis{idx}"] = dict(
            domain=dom_y, anchor=xa, range=Y_RANGES[r][c], tickvals=yt, ticktext=Y_TICKTEXT[r][c],
            minor=dict(tickvals=[v + ystep / 2 for v in yt], showgrid=True, gridcolor="#F4F4F4", ticks=""),
            **common)
        shapes.append(dict(type="line", xref=xa, yref=f"{ya} domain", x0=CUTOFFS[r][c], x1=CUTOFFS[r][c],
                           y0=0, y1=1, line=dict(color="black", width=2.2, dash="dash")))
        annotations.append(dict(text=f"<b>{Y_TITLES[r][c]}</b>", xref="paper", yref="paper",
                                x=YTITLE_X[r][c] / W, y=1 - (y0 + y1) / 2 / H, textangle=-90,
                                showarrow=False, xanchor="center", yanchor="middle",
                                font=dict(family=FONT, size=30, color="black")))
        if c == 0:
            annotations.append(dict(text=COUNTRIES[r], xref="paper", yref="paper",
                                    x=(x1 - 2) / W, y=1 - (y0 + 1) / H, xanchor="right", yanchor="top",
                                    showarrow=False, font=dict(family=FONT, size=21, color="black")))

annotations.append(dict(text=f"<b>{X_TITLE}</b>", xref="paper", yref="paper", x=977 / W, y=1 - 745 / H,
                        xanchor="center", yanchor="middle", showarrow=False,
                        font=dict(family=FONT, size=29, color="black")))

fig.update_layout(width=W, height=H, margin=dict(l=0, r=0, t=0, b=0),
                  paper_bgcolor="white", plot_bgcolor="white", showlegend=False,
                  annotations=annotations, shapes=shapes, **layout_axes)

fig.write_html("out.html")
